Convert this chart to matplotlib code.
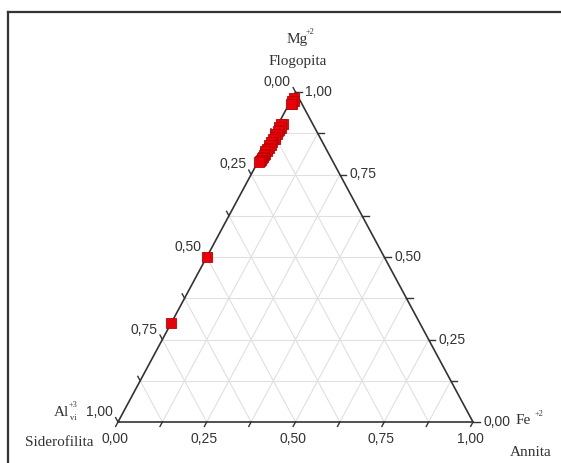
import numpy as np
import matplotlib
matplotlib.use('Agg')
from matplotlib import pyplot as plt
from matplotlib.lines import Line2D

# ternary data: Al(vi), Mg, Fe fractions (samples sit on / near the Fe=0 edge)
al = [0.012, 0.018, 0.022, 0.026, 0.03,
      0.085, 0.09, 0.095, 0.10, 0.105, 0.11, 0.115, 0.12, 0.125, 0.13, 0.135,
      0.14, 0.145, 0.15, 0.155, 0.16, 0.165, 0.17, 0.175, 0.18, 0.185, 0.19,
      0.195, 0.20, 0.205, 0.21,
      0.50, 0.70]
fe = [0.006, 0.010, 0.004, 0.009, 0.005,
      0.012, 0.008, 0.013, 0.006, 0.011, 0.009, 0.013, 0.007, 0.010, 0.012, 0.006,
      0.010, 0.008, 0.011, 0.005, 0.009, 0.007, 0.010, 0.004, 0.008, 0.006, 0.007,
      0.004, 0.005, 0.003, 0.003,
      0.0, 0.0]
mg = [1 - a - f for a, f in zip(al, fe)]

grid_steps = [0.125, 0.25, 0.375, 0.5, 0.625, 0.75, 0.875]
tick_steps = [0.0, 0.125, 0.25, 0.375, 0.5, 0.625, 0.75, 0.875, 1.0]
label_steps = [0.0, 0.25, 0.5, 0.75, 1.0]

W, H = 561, 463
PW, PH = 355.0, 330.0   # triangle size in pixels

def tern(a, m, f):
    return f + m / 2.0, m

def fmt(v):
    return ('%.2f' % v).replace('.', ',')

fig = plt.figure(figsize=(W / 100, H / 100), dpi=100)
ax = fig.add_axes([118 / W, 41 / H, PW / W, PH / H])
ax.set_xlim(0, 1)
ax.set_ylim(0, 1)
ax.axis('off')

# frame of the original figure (only left and top visible)
fig.add_artist(Line2D([8 / W, 8 / W], [-0.1, 1 - 12 / H], transform=fig.transFigure,
                      color='#333333', lw=1.6))
fig.add_artist(Line2D([8 / W, 1.1], [1 - 12 / H, 1 - 12 / H], transform=fig.transFigure,
                      color='#333333', lw=1.6))

# grid
gcol = '#e0e0e0'
for k in grid_steps:
    x0, y0 = tern(1 - k, k, 0); x1, y1 = tern(0, k, 1 - k)
    ax.plot([x0, x1], [y0, y1], color=gcol, lw=0.8, zorder=1)
    x0, y0 = tern(1 - k, 0, k); x1, y1 = tern(0, 1 - k, k)
    ax.plot([x0, x1], [y0, y1], color=gcol, lw=0.8, zorder=1)
    x0, y0 = tern(k, 0, 1 - k); x1, y1 = tern(k, 1 - k, 0)
    ax.plot([x0, x1], [y0, y1], color=gcol, lw=0.8, zorder=1)

# triangle
ax.plot([0, 1, 0.5, 0], [0, 0, 1, 0], color='#333333', lw=1.2, zorder=2, clip_on=False)

def px(dx, dy):
    return dx / PW, dy / PH

tl = 5.0
# bottom axis (Fe): ticks parallel to left edge, pointing down-left
d = np.array([-177.0, -330.0]); d = d / np.hypot(*d) * tl
for t in tick_steps:
    x, y = tern(1 - t, 0, t)
    ox, oy = px(*d)
    ax.plot([x, x + ox], [y, y + oy], color='#333333', lw=1.0, clip_on=False)
    if t in label_steps:
        ax.annotate(fmt(t), (x, y), xytext=(-3, -10), textcoords='offset pixels',
                    ha='center', va='top', fontsize=10, family='Liberation Sans',
                    color='#333333')
# right axis (Mg): horizontal ticks pointing right
for t in tick_steps:
    x, y = tern(0, t, 1 - t)
    ax.plot([x, x + tl / PW * 1.3], [y, y], color='#333333', lw=1.0, clip_on=False)
    if t in label_steps:
        ax.annotate(fmt(t), (x, y), xytext=(10, 0), textcoords='offset pixels',
                    ha='left', va='center', fontsize=10, family='Liberation Sans',
                    color='#333333')
# left axis (Al): ticks parallel to right edge, pointing up-left
d = np.array([-177.0, 330.0]); d = d / np.hypot(*d) * tl
for t in tick_steps:
    x, y = tern(t, 1 - t, 0)
    ox, oy = px(*d)
    ax.plot([x, x + ox], [y, y + oy], color='#333333', lw=1.0, clip_on=False)
    if t in label_steps:
        ax.annotate(fmt(t), (x, y), xytext=(-5, 3), textcoords='offset pixels',
                    ha='right', va='bottom', fontsize=10, family='Liberation Sans',
                    color='#333333')

# data points
xs, ys = zip(*[tern(a, m, f) for a, m, f in zip(al, mg, fe)])
ax.plot(xs, ys, 's', ms=6.8, color='#e8000b', mec='#c00000', mew=0.6,
        zorder=5, clip_on=False)

# vertex titles
serif = 'Liberation Serif'
tc = '#333333'
fig.text(297 / W, 1 - 40 / H, 'Mg', ha='center', va='center', fontsize=11,
         family=serif, color=tc)
fig.text(306 / W, 1 - 32 / H, '+2', ha='left', va='center', fontsize=6,
         family=serif, color=tc)
fig.text(298 / W, 1 - 62 / H, 'Flogopita', ha='center', va='center', fontsize=11,
         family=serif, color=tc)
fig.text(61 / W, 1 - 412 / H, 'Al', ha='center', va='center', fontsize=11,
         family=serif, color=tc)
fig.text(69 / W, 1 - 405 / H, '+3', ha='left', va='center', fontsize=6,
         family=serif, color=tc)
fig.text(70 / W, 1 - 418 / H, 'vi', ha='left', va='center', fontsize=6,
         family=serif, color=tc)
fig.text(59 / W, 1 - 443 / H, 'Siderofilita', ha='center', va='center', fontsize=11,
         family=serif, color=tc)
fig.text(516 / W, 1 - 421 / H, 'Fe', ha='left', va='center', fontsize=11,
         family=serif, color=tc)
fig.text(535 / W, 1 - 414 / H, '+2', ha='left', va='center', fontsize=6,
         family=serif, color=tc)
fig.text(531 / W, 1 - 452 / H, 'Annita', ha='center', va='center', fontsize=11,
         family=serif, color=tc)

fig.savefig('out.png', dpi=100)
